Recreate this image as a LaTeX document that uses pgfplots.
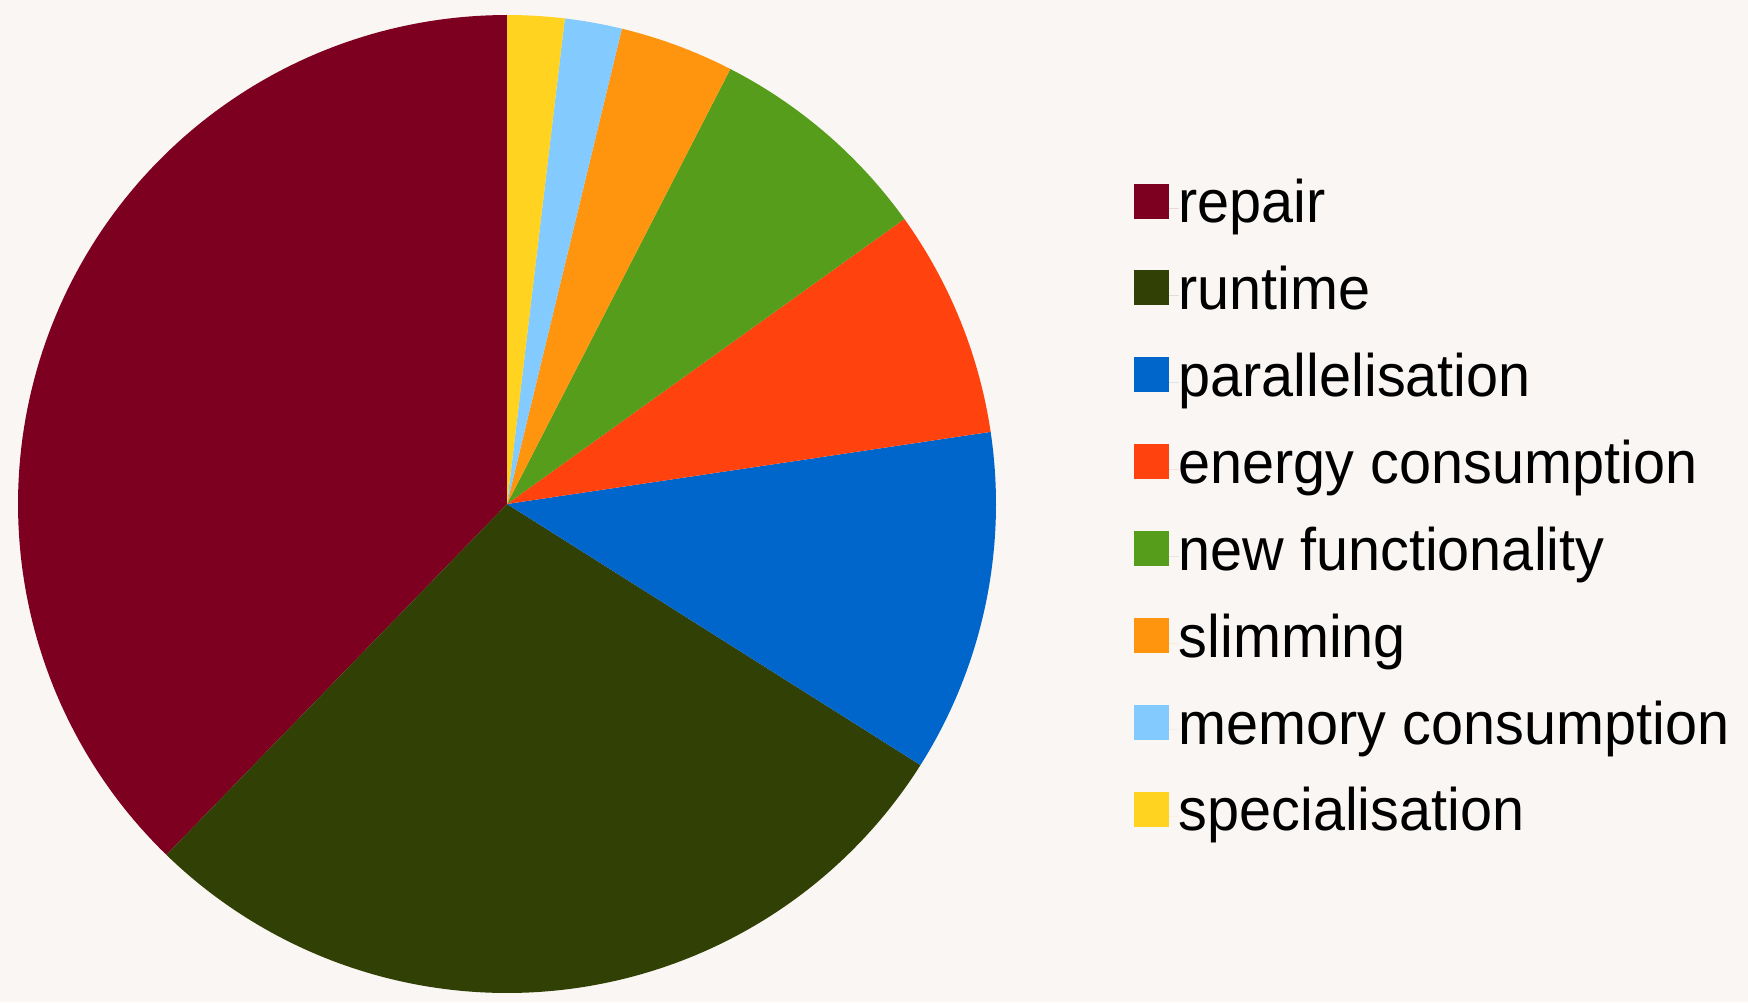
\documentclass[border=0pt]{standalone}
\usepackage{pgfplots}
\pgfplotsset{compat=1.18}
\usepackage{fontspec}
\setmainfont{Liberation Sans}[FakeStretch=0.96]
\definecolor{bgc}{RGB}{250,246,243}
\definecolor{crepair}{HTML}{7E0021}
\definecolor{cruntime}{HTML}{314004}
\definecolor{cpar}{HTML}{0066CC}
\definecolor{cenergy}{HTML}{FF420E}
\definecolor{cnew}{HTML}{579D1C}
\definecolor{cslim}{HTML}{FF950E}
\definecolor{cmem}{HTML}{83CAFF}
\definecolor{cspec}{HTML}{FFD320}
% counts per category (counter-clockwise from 12 o'clock)
\def\total{53}
\newcommand{\pieslice}[3]{% #1 = cumulative count before, #2 = count, #3 = colour
  \pgfmathsetmacro{\sa}{90+(#1/\total)*360}%
  \pgfmathsetmacro{\ea}{90+((#1+#2)/\total)*360}%
  \addplot[fill=#3, draw=none, domain=\sa:\ea, samples=120, variable=\t]
    ({507+489*cos(\t)},{498+489*sin(\t)}) -- (axis cs:507,498) -- cycle;
}
\begin{document}
\begin{tikzpicture}
\begin{axis}[
  scale only axis, width=524.4pt, height=300.6pt,
  xmin=0, xmax=1748, ymin=0, ymax=1002,
  hide axis, clip=false,
  legend style={at={(axis cs:1133,825)}, anchor=north west, draw=none, fill=none,
    font=\fontsize{18}{22}\selectfont, row sep=7.57pt, inner sep=0pt,
    nodes={inner sep=0pt, text height=13.5pt, text depth=5pt}},
  legend cell align=left,
  legend image code/.code={\fill[#1] (0pt,-3pt) rectangle (10.5pt,7.5pt);
    \path (0pt,0pt) -- (13.5pt,0pt);},
]
\fill[bgc] (rel axis cs:0,0) rectangle (rel axis cs:1,1);
\pieslice{0}{20}{crepair}
\addlegendentry{repair}
\pieslice{20}{15}{cruntime}
\addlegendentry{runtime}
\pieslice{35}{6}{cpar}
\addlegendentry{parallelisation}
\pieslice{41}{4}{cenergy}
\addlegendentry{energy consumption}
\pieslice{45}{4}{cnew}
\addlegendentry{new functionality}
\pieslice{49}{2}{cslim}
\addlegendentry{slimming}
\pieslice{51}{1}{cmem}
\addlegendentry{memory consumption}
\pieslice{52}{1}{cspec}
\addlegendentry{specialisation}
\end{axis}
\end{tikzpicture}
\end{document}
